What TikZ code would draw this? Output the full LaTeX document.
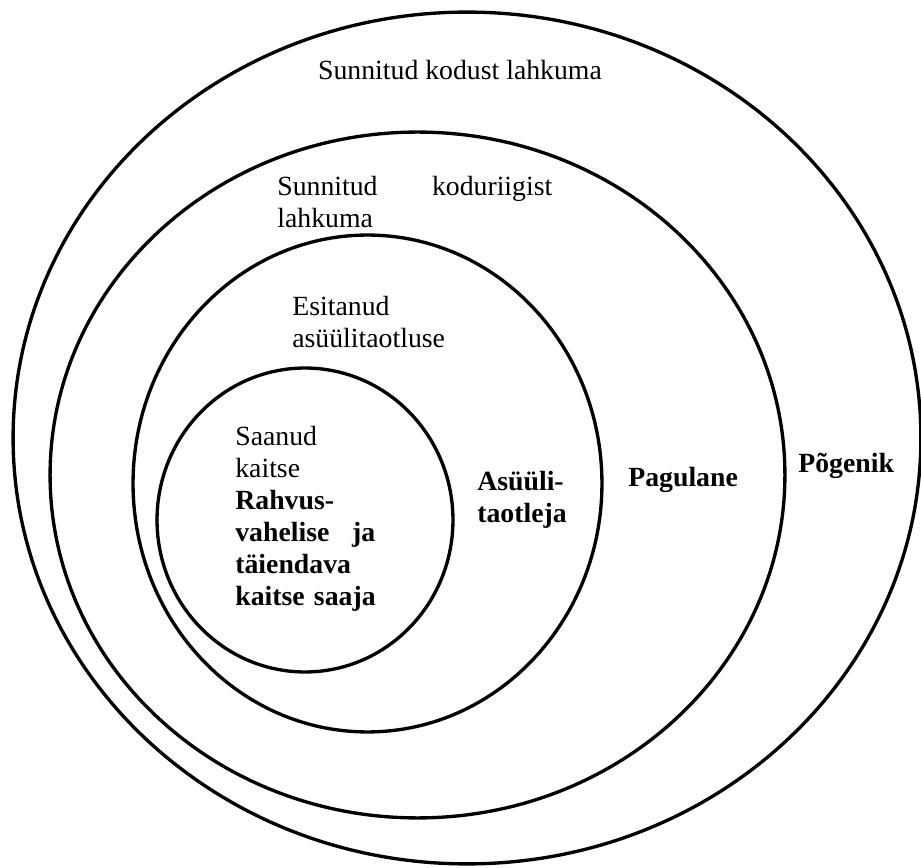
\documentclass[tikz,border=0pt]{standalone}
\usepackage{fontspec}
\setmainfont{Liberation Serif}
\usetikzlibrary{shapes.geometric}

\begin{document}
\begin{tikzpicture}[
    x=0.02cm, y=-0.02cm, % one unit per pixel of the sketch
    % Styles
    ring/.style={ % Boundary of one group
        ellipse,
        draw,
        line width=1.9pt,
        inner sep=0pt
    },
    note/.style={ % Plain description inside a group
        inner sep=0pt,
        font=\fontsize{15.8}{18.2}\selectfont
    },
    groupname/.style={ % Bold name of a group
        note,
        font=\fontsize{15.8}{18.2}\selectfont\bfseries
    }
]
    \useasboundingbox (0,0) rectangle (921,868);

    % Nested groups, outermost first
    \node[ring, minimum width=18.16cm, minimum height=17.04cm] (pogenik) at (467,438) {};
    \node[ring, minimum width=14.70cm, minimum height=13.72cm] (pagulane) at (417.5,475) {};
    \node[ring, minimum width=9.38cm, minimum height=9.94cm] (taotleja) at (367.5,483.5) {};
    \node[ring, minimum width=5.92cm, minimum height=6.08cm] (saaja) at (305,520) {};

    % Descriptions
    \node[note, anchor=base] (kodust) at (460,80) {Sunnitud kodust lahkuma};
    \node[note, anchor=north west, text width=5.5cm, align=left] (koduriigist) at (277,176)
        {Sunnitud\hfill koduriigist\\lahkuma};
    \node[note, anchor=north west, align=left] (taotlus) at (292,296)
        {Esitanud\\asüülitaotluse};
    \node[note, anchor=north west, text width=2.8cm, align=left] (kaitse) at (235,426)
        {Saanud\\kaitse\\\textbf{Rahvus-}\\\textbf{vahelise\hfill ja}\\\textbf{täiendava}\\\textbf{\mbox{kaitse saaja}}};

    % Group names
    \node[groupname, anchor=north west, align=left] (asyyli) at (477,471) {Asüüli-\\taotleja};
    \node[groupname, anchor=base west] (pagulanename) at (628,487) {Pagulane};
    \node[groupname, anchor=base west] (pogenikname) at (798,473) {Põgenik};
\end{tikzpicture}
\end{document}
